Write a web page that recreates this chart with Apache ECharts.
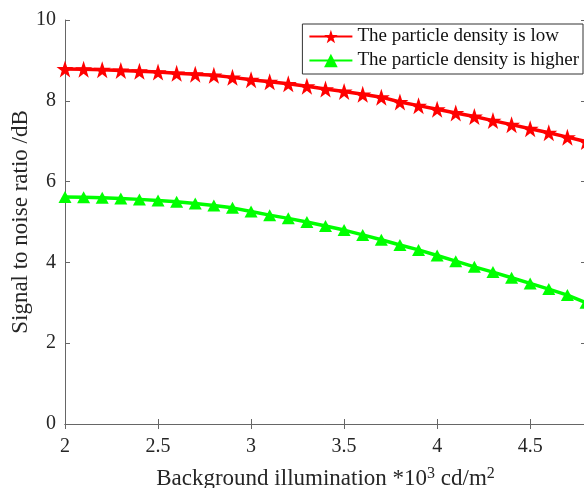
<!DOCTYPE html>
<html>
<head>
<meta charset="utf-8">
<script src="https://cdn.jsdelivr.net/npm/echarts@6/dist/echarts.min.js"></script>
<style>
  html, body { margin: 0; padding: 0; background: #fff; }
  #chart { width: 584px; height: 488px; }
</style>
</head>
<body>
<div id="chart"></div>
<script>
// background illumination (*10^3 cd/m^2)
const illumination = [2.0, 2.1, 2.2, 2.3, 2.4, 2.5, 2.6, 2.7, 2.8, 2.9,
  3.0, 3.1, 3.2, 3.3, 3.4, 3.5, 3.6, 3.7, 3.8, 3.9,
  4.0, 4.1, 4.2, 4.3, 4.4, 4.5, 4.6, 4.7, 4.8]

// SNR (dB), low particle density
const snrLow = [8.79, 8.78, 8.77, 8.75, 8.73, 8.71, 8.68, 8.66, 8.63, 8.58,
  8.52, 8.47, 8.42, 8.36, 8.29, 8.23, 8.16, 8.09, 7.97, 7.88,
  7.79, 7.70, 7.61, 7.51, 7.41, 7.31, 7.21, 7.10, 6.99]

// SNR (dB), higher particle density
const snrHigh = [5.62, 5.61, 5.60, 5.58, 5.56, 5.53, 5.50, 5.46, 5.41, 5.35,
  5.26, 5.17, 5.09, 5.00, 4.90, 4.80, 4.68, 4.56, 4.43, 4.31,
  4.17, 4.03, 3.89, 3.76, 3.62, 3.48, 3.34, 3.19, 3.00]

const seriesNames = ['The particle density is low', 'The particle density is higher']

const starPath = 'path://M50,0 L61.8,35.1 L98.1,35.1 L68.7,56.7 L79.4,91 L50,70 L20.6,91 L31.3,56.7 L1.9,35.1 L38.2,35.1 Z'
const font = 'Liberation Serif'
const axisColor = '#666'
const textColor = '#262626'

const chart = echarts.init(document.getElementById('chart'))

const pairs = ys => illumination.map((x, i) => [x, ys[i]])

const xBase = {
  type: 'value',
  min: 2,
  max: 4.8,
  interval: 0.5,
  splitLine: { show: false },
  axisLine: { lineStyle: { color: axisColor, width: 1 } },
  axisTick: { inside: true, length: 5, lineStyle: { color: axisColor } }
}
const yBase = {
  type: 'value',
  min: 0,
  max: 10,
  interval: 2,
  splitLine: { show: false },
  axisLine: { show: true, lineStyle: { color: axisColor, width: 1 } },
  axisTick: { show: true, inside: true, length: 5, lineStyle: { color: axisColor } }
}

const option = {
  backgroundColor: '#fff',
  animation: false,
  grid: { left: 65, right: -2, top: 20, bottom: 64, containLabel: false, outerBoundsMode: 'none' },
  legend: {
    data: seriesNames,
    orient: 'vertical',
    right: 1,
    top: 24,
    align: 'left',
    itemWidth: 43,
    itemHeight: 17,
    itemGap: 5,
    padding: [3, 4, 4, 6],
    borderColor: '#333',
    borderWidth: 1,
    backgroundColor: '#fff',
    textStyle: { fontFamily: font, fontSize: 19, color: '#111' }
  },
  xAxis: [
    Object.assign({}, xBase, {
      position: 'bottom',
      name: 'Background illumination *10{sup|3} cd/m{sup|2}',
      nameLocation: 'middle',
      nameGap: 42,
      nameMoveOverlap: false,
      nameTextStyle: {
        fontFamily: font, fontSize: 23, color: textColor,
        rich: { sup: { fontFamily: font, fontSize: 16, color: textColor, verticalAlign: 'top', padding: [0, 0, 10, 0] } }
      },
      axisLabel: { fontFamily: font, fontSize: 20, color: textColor, margin: 13, showMaxLabel: false }
    }),
    Object.assign({}, xBase, {
      position: 'top',
      axisLabel: { show: false }
    })
  ],
  yAxis: [
    Object.assign({}, yBase, {
      position: 'left',
      name: 'Signal to noise ratio /dB',
      nameLocation: 'middle',
      nameGap: 33,
      nameMoveOverlap: false,
      nameTextStyle: { fontFamily: font, fontSize: 23, color: textColor },
      axisLabel: { fontFamily: font, fontSize: 20, color: textColor, margin: 9 }
    }),
    Object.assign({}, yBase, {
      position: 'right',
      axisLabel: { show: false }
    })
  ],
  series: [
    {
      name: seriesNames[0],
      type: 'line',
      data: pairs(snrLow),
      symbol: starPath,
      symbolSize: 17,
      color: '#ff0000',
      lineStyle: { width: 3.5, color: '#ff0000' },
      itemStyle: { color: '#ff0000' }
    },
    {
      name: seriesNames[1],
      type: 'line',
      data: pairs(snrHigh),
      symbol: 'triangle',
      symbolSize: [13, 12],
      color: '#00ff00',
      lineStyle: { width: 3.5, color: '#00ff00' },
      itemStyle: { color: '#00ff00' }
    }
  ]
}

chart.setOption(option)
</script>
</body>
</html>
